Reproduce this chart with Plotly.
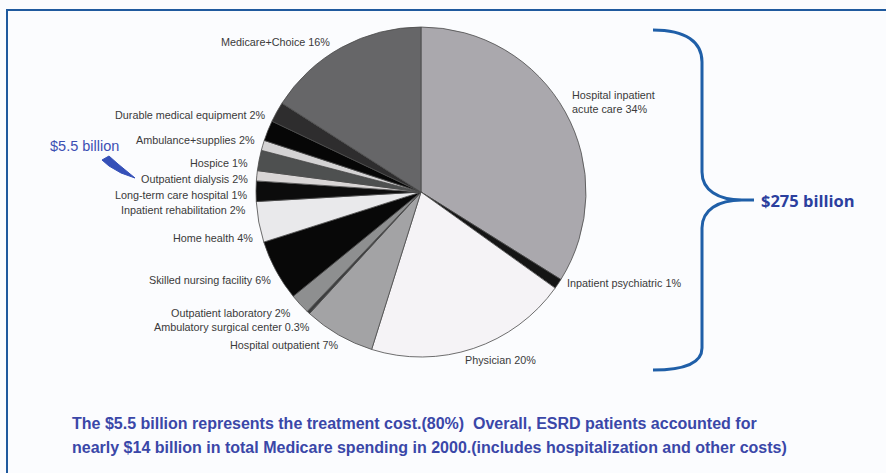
import plotly.graph_objects as go

W, H = 886, 473

categories = [
    "Hospital inpatient acute care", "Inpatient psychiatric", "Physician",
    "Hospital outpatient", "Ambulatory surgical center", "Outpatient laboratory",
    "Skilled nursing facility", "Home health", "Inpatient rehabilitation",
    "Long-term care hospital", "Outpatient dialysis", "Hospice",
    "Ambulance+supplies", "Durable medical equipment", "Medicare+Choice",
]
shares = [34, 1, 20, 7, 0.3, 2, 6, 4, 2, 1, 2, 1, 2, 2, 16]
label_texts = [
    "Hospital inpatient<br>acute care 34%", "Inpatient psychiatric 1%", "Physician 20%",
    "Hospital outpatient 7%", "Ambulatory surgical center 0.3%", "Outpatient laboratory 2%",
    "Skilled nursing facility 6%", "Home health 4%", "Inpatient rehabilitation 2%",
    "Long-term care hospital 1%", "Outpatient dialysis 2%", "Hospice 1%",
    "Ambulance+supplies 2%", "Durable medical equipment 2%", "Medicare+Choice 16%",
]
colors = [
    "#aaa8ad", "#151515", "#f5f3f6", "#a3a3a5", "#3c3d3e", "#8e8f90",
    "#080808", "#e9e9eb", "#0c0c0c", "#d9d6d6", "#4e5050", "#d4d3d4",
    "#060606", "#2e2d2e", "#666668",
]
note_lines = [
    "The $5.5 billion represents the treatment cost.(80%)  Overall, ESRD patients accounted for",
    "nearly $14 billion in total Medicare spending in 2000.(includes hospitalization and other costs)",
]


def px(x):
    return x / W


def py(y):
    return 1 - y / H


# pie geometry (pixels)
CX, CY, R = 421, 192, 165

fig = go.Figure()
fig.add_trace(go.Pie(
    labels=categories, values=shares, sort=False, direction="clockwise", rotation=0,
    marker=dict(colors=colors, line=dict(color="#4a4a4a", width=0.8)),
    textinfo="none", hoverinfo="label+percent", showlegend=False,
    domain=dict(x=[px(CX - R), px(CX + R)], y=[py(CY + R), py(CY - R)]),
))

# label placement: (x, y, anchor)
label_pos = [
    (570, 102, "left"), (565, 283, "left"), (463, 360, "left"),
    (340, 345, "right"), (312, 327, "right"), (293, 313, "right"),
    (273, 280, "right"), (255, 238, "right"), (248, 210, "right"),
    (249, 195, "right"), (250, 179, "right"), (250, 163, "right"),
    (257, 140, "right"), (267, 115, "right"), (332, 42, "right"),
]

annotations = []
for txt, (x, y, anc) in zip(label_texts, label_pos):
    annotations.append(dict(
        x=px(x), y=py(y), xref="paper", yref="paper", text=txt, showarrow=False,
        xanchor=anc, yanchor="middle", align="left",
        font=dict(family="Liberation Sans, Arial", size=10.8, color="#3a3a3a"),
    ))

annotations.append(dict(
    x=px(48), y=py(146), xref="paper", yref="paper", text="$5.5 billion",
    showarrow=False, xanchor="left", yanchor="middle",
    font=dict(family="Liberation Sans, Arial", size=14.5, color="#3b4fb3"),
))
annotations.append(dict(
    x=px(759), y=py(200), xref="paper", yref="paper", text="<b>$275 billion</b>",
    showarrow=False, xanchor="left", yanchor="middle",
    font=dict(family="Open Sans, Liberation Sans", size=16.5, color="#2b3f9e"),
))
for txt, y in zip(note_lines, [423, 447]):
    annotations.append(dict(
        x=px(70), y=py(y), xref="paper", yref="paper", text=f"<b>{txt}</b>",
        showarrow=False, xanchor="left", yanchor="middle", align="left",
        font=dict(family="Liberation Sans, Arial", size=16, color="#3a47a8"),
    ))


def path_from(points_cmds, close=False):
    out = []
    for cmd, pts in points_cmds:
        for i, (x, y) in enumerate(pts):
            c = cmd if (i == 0 or cmd != "C") else ""
            out.append(f"{c}{px(x):.5f},{py(y):.5f}" if c else f"{px(x):.5f},{py(y):.5f}")
    s = " ".join(out)
    return s + (" Z" if close else "")


brace = path_from([
    ("M", [(653, 30)]),
    ("C", [(686, 30), (702, 42), (702, 62)]),
    ("L", [(702, 172)]),
    ("C", [(702, 190), (718, 200), (742, 200)]),
    ("L", [(754, 200)]),
    ("M", [(742, 200)]),
    ("C", [(718, 200), (702, 210), (702, 228)]),
    ("L", [(702, 348)]),
    ("C", [(702, 362), (686, 370), (653, 370)]),
])

bolt = path_from([
    ("M", [(102, 160)]),
    ("L", [(109, 156)]),
    ("L", [(118, 164)]),
    ("L", [(135, 178)]),
    ("L", [(121, 173)]),
    ("L", [(109, 166)]),
], close=True)

shapes = [
    dict(type="rect", xref="paper", yref="paper", x0=px(7), y0=py(10), x1=px(W + 5), y1=py(H + 5),
         line=dict(color="#1f5a9e", width=2), fillcolor="rgba(0,0,0,0)", layer="below"),
    dict(type="path", xref="paper", yref="paper", path=brace,
         line=dict(color="#1f5fa8", width=3)),
    dict(type="path", xref="paper", yref="paper", path=bolt,
         line=dict(color="#3550b8", width=1), fillcolor="#3550b8"),
]

fig.update_layout(
    width=W, height=H, margin=dict(l=0, r=0, t=0, b=0),
    paper_bgcolor="#fbfcfe", plot_bgcolor="#fbfcfe",
    annotations=annotations, shapes=shapes, showlegend=False,
)

fig.write_html("out.html")
